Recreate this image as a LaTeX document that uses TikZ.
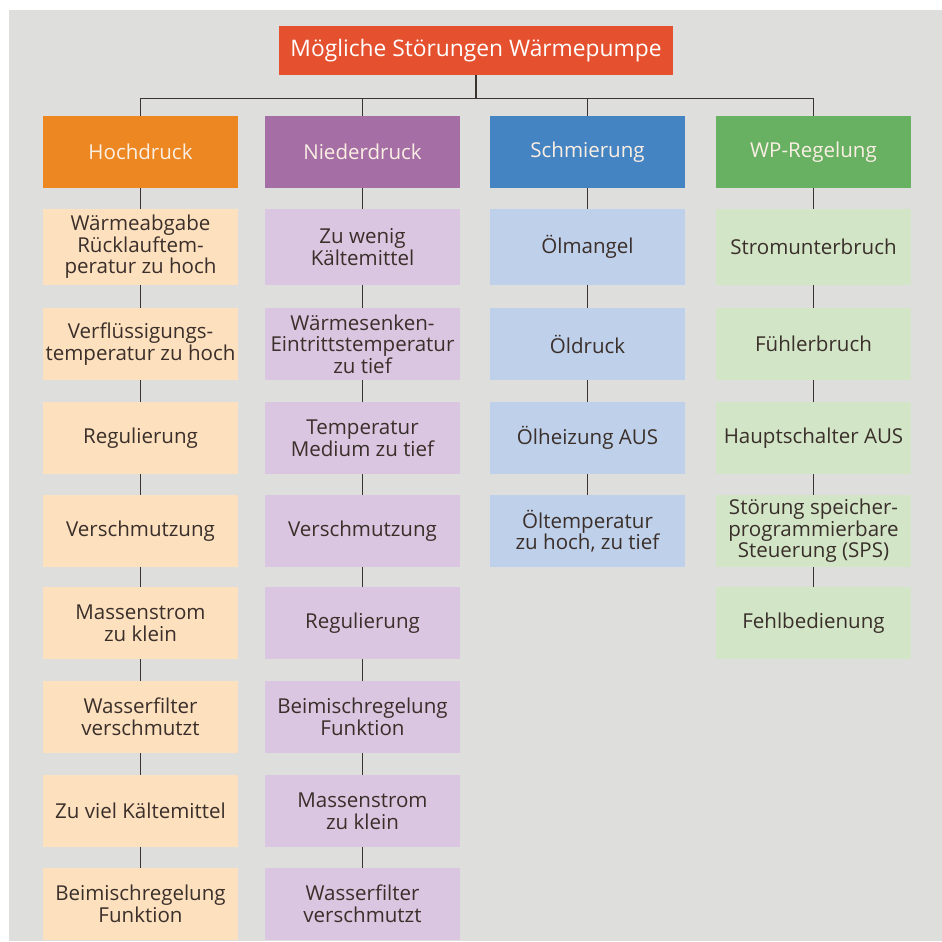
\documentclass[tikz,border=0pt]{standalone}
\usepackage{fontspec}
\setmainfont{Open Sans}

\definecolor{bggray}{HTML}{DEDEDC}
\definecolor{titlered}{HTML}{E5512F}
\definecolor{hochdark}{HTML}{EC8721}
\definecolor{hochlight}{HTML}{FDE0BE}
\definecolor{niederdark}{HTML}{A56EA5}
\definecolor{niederlight}{HTML}{DAC6E0}
\definecolor{schmdark}{HTML}{4584C2}
\definecolor{schmlight}{HTML}{BFD0EA}
\definecolor{wpdark}{HTML}{68B062}
\definecolor{wplight}{HTML}{D2E6C7}
\definecolor{linebrown}{HTML}{3B332F}
\definecolor{textbrown}{HTML}{3A2F2A}
\definecolor{headtext}{HTML}{FBEFE4}

\begin{document}
\begin{tikzpicture}[x=0.025cm,y=-0.025cm,
  box/.style={align=center, inner sep=1pt, font=\fontsize{14.6}{15.4}\selectfont},
  head/.style={box, text=headtext, minimum width=4.875cm, minimum height=1.8cm},
  item/.style={box, text=textbrown, minimum width=4.875cm, minimum height=1.8cm},
  tall/.style={minimum height=1.9cm},
  link/.style={draw=linebrown, line width=1.1pt}]

  \useasboundingbox (0,0) rectangle (942,942);
  \fill[bggray] (9,10) rectangle (942,941);

  \node[box, fill=titlered, text=white, font=\fontsize{16.2}{17}\selectfont, minimum width=9.85cm, minimum height=1.225cm] (title) at (476,50.5) {Mögliche Störungen Wärmepumpe};

  % Kategorien
  \node[head, fill=hochdark]   (hoch)   at (140.5,152) {Hochdruck};
  \node[head, fill=niederdark] (nieder) at (362.5,152) {Niederdruck};
  \node[head, fill=schmdark]   (schm)   at (587.5,152) {Schmierung};
  \node[head, fill=wpdark]     (wp)     at (813.5,152) {WP-Regelung};

  % Hochdruck
  \node[item, tall, fill=hochlight] (hoch1) at (140.5,247) {Wärmeabgabe\\Rücklauftem-\\peratur zu hoch};
  \node[item, fill=hochlight] (hoch2) at (140.5,344) {Verflüssigungs-\\temperatur zu hoch};
  \node[item, fill=hochlight] (hoch3) at (140.5,438) {Regulierung};
  \node[item, fill=hochlight] (hoch4) at (140.5,531) {Verschmutzung};
  \node[item, fill=hochlight] (hoch5) at (140.5,623) {Massenstrom\\zu klein};
  \node[item, fill=hochlight] (hoch6) at (140.5,717) {Wasserfilter\\verschmutzt};
  \node[item, fill=hochlight] (hoch7) at (140.5,811) {Zu viel Kältemittel};
  \node[item, fill=hochlight] (hoch8) at (140.5,904) {Beimischregelung\\Funktion};

  % Niederdruck
  \node[item, tall, fill=niederlight] (nieder1) at (362.5,247) {Zu wenig\\Kältemittel};
  \node[item, fill=niederlight] (nieder2) at (362.5,344) {Wärmesenken-\\Eintrittstemperatur\\zu tief};
  \node[item, fill=niederlight] (nieder3) at (362.5,438) {Temperatur\\Medium zu tief};
  \node[item, fill=niederlight] (nieder4) at (362.5,531) {Verschmutzung};
  \node[item, fill=niederlight] (nieder5) at (362.5,623) {Regulierung};
  \node[item, fill=niederlight] (nieder6) at (362.5,717) {Beimischregelung\\Funktion};
  \node[item, fill=niederlight] (nieder7) at (362.5,811) {Massenstrom\\zu klein};
  \node[item, fill=niederlight] (nieder8) at (362.5,904) {Wasserfilter\\verschmutzt};

  % Schmierung
  \node[item, tall, fill=schmlight] (schm1) at (587.5,247) {Ölmangel};
  \node[item, fill=schmlight] (schm2) at (587.5,344) {Öldruck};
  \node[item, fill=schmlight] (schm3) at (587.5,438) {Ölheizung AUS};
  \node[item, fill=schmlight] (schm4) at (587.5,531) {Öltemperatur\\zu hoch, zu tief};

  % WP-Regelung
  \node[item, tall, fill=wplight] (wp1) at (813.5,247) {Stromunterbruch};
  \node[item, fill=wplight] (wp2) at (813.5,344) {Fühlerbruch};
  \node[item, fill=wplight] (wp3) at (813.5,438) {Hauptschalter AUS};
  \node[item, fill=wplight] (wp4) at (813.5,531) {Störung speicher-\\programmierbare\\Steuerung (SPS)};
  \node[item, fill=wplight] (wp5) at (813.5,623) {Fehlbedienung};

  % Verbindungen
  \draw[link] (title.south) -- ++(0,23) -| (hoch.north);
  \draw[link] (title.south) -- ++(0,23) -| (nieder.north);
  \draw[link] (title.south) -- ++(0,23) -| (schm.north);
  \draw[link] (title.south) -- ++(0,23) -| (wp.north);

  \draw[link] (hoch) -- (hoch1) -- (hoch2) -- (hoch3) -- (hoch4) -- (hoch5) -- (hoch6) -- (hoch7) -- (hoch8);
  \draw[link] (nieder) -- (nieder1) -- (nieder2) -- (nieder3) -- (nieder4) -- (nieder5) -- (nieder6) -- (nieder7) -- (nieder8);
  \draw[link] (schm) -- (schm1) -- (schm2) -- (schm3) -- (schm4);
  \draw[link] (wp) -- (wp1) -- (wp2) -- (wp3) -- (wp4) -- (wp5);
\end{tikzpicture}
\end{document}
